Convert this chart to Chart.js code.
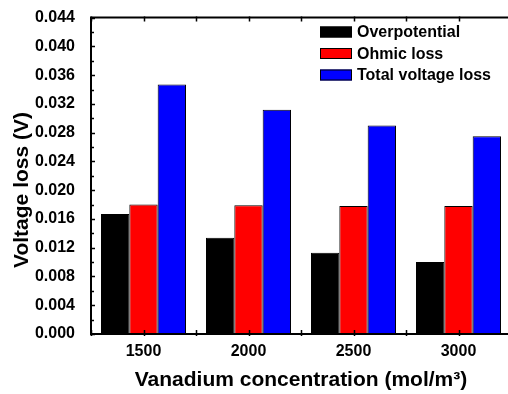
<!DOCTYPE html>
<html>
<head>
<meta charset="utf-8">
<script src="https://cdn.jsdelivr.net/npm/chart.js@4"></script>
<style>
  html, body { margin: 0; padding: 0; background: #fff; overflow: hidden; }
  #wrap { width: 511px; height: 394px; }
</style>
</head>
<body>
<div id="wrap"><canvas id="c" width="511" height="394"></canvas></div>
<script>
// Vanadium concentration categories (mol/m3)
const concentrations = ['1500', '2000', '2500', '3000'];

// Voltage loss components (V)
const overpotential = [0.0167, 0.0134, 0.0113, 0.0100];
const ohmicLoss     = [0.0180, 0.0179, 0.0178, 0.0178];
const totalLoss     = [0.0347, 0.0312, 0.0290, 0.0275];

const seriesNames = ['Overpotential', 'Ohmic loss', 'Total voltage loss'];
const yMin = 0, yMax = 0.044, yStep = 0.004;

const FONT = '"Liberation Sans", Arial, sans-serif';

// Frame lines, inward tick marks, y title and in-plot legend
const framePlugin = {
  id: 'frame',
  afterDatasetsDraw(chart) {
    const ctx = chart.ctx;
    const a = chart.chartArea;
    const xs = chart.scales.x, ys = chart.scales.y;
    ctx.save();
    ctx.strokeStyle = '#000';
    ctx.lineWidth = 2;
    // left, bottom, top, right axis lines
    ctx.beginPath();
    ctx.moveTo(a.left, a.top); ctx.lineTo(a.left, a.bottom);
    ctx.moveTo(a.left - 1, a.bottom); ctx.lineTo(a.right, a.bottom);
    ctx.moveTo(a.left - 1, a.top); ctx.lineTo(a.right, a.top);
    ctx.moveTo(a.right, a.top); ctx.lineTo(a.right, a.bottom);
    ctx.stroke();

    // y ticks: major every step, minor halfway
    ctx.lineWidth = 1.5;
    ctx.beginPath();
    const nHalf = Math.round((yMax - yMin) / (yStep / 2));
    for (let i = 0; i <= nHalf; i++) {
      const v = yMin + i * yStep / 2;
      const py = Math.round(ys.getPixelForValue(v)) + 0.5;
      const len = (i % 2 === 0) ? 4 : 3;
      ctx.moveTo(a.left - 1, py); ctx.lineTo(a.left + len, py);
    }
    // x ticks at category centres and between categories
    for (let i = -0.5; i <= concentrations.length - 0.5; i += 0.5) {
      const px = Math.round(xs.getPixelForValue(i)) + 0.5;
      ctx.moveTo(px, a.bottom + 2); ctx.lineTo(px, a.bottom - 4);
      ctx.moveTo(px, a.top - 1); ctx.lineTo(px, a.top + 4);
    }
    ctx.stroke();

    // y axis title
    ctx.fillStyle = '#000';
    ctx.font = 'bold 21px ' + FONT;
    ctx.textAlign = 'center';
    ctx.textBaseline = 'middle';
    ctx.translate(22, 190);
    ctx.rotate(-Math.PI / 2);
    ctx.fillText('Voltage loss (V)', 0, 0);
    ctx.restore();

    // legend
    ctx.save();
    ctx.font = 'bold 16px ' + FONT;
    ctx.textAlign = 'left';
    ctx.textBaseline = 'middle';
    const rows = [32, 53.5, 75];
    chart.data.datasets.forEach((ds, i) => {
      const cy = rows[i];
      ctx.fillStyle = ds.backgroundColor;
      ctx.fillRect(320, cy - 5.5, 32, 11);
      ctx.strokeStyle = '#000';
      ctx.lineWidth = 1;
      ctx.strokeRect(320.5, cy - 5, 31, 10);
      ctx.fillStyle = '#000';
      ctx.fillText(ds.label, 357, cy + 1);
    });
    ctx.restore();
  }
};

new Chart(document.getElementById('c'), {
  type: 'bar',
  data: {
    labels: concentrations,
    datasets: [
      { label: seriesNames[0], data: overpotential, backgroundColor: '#000000', borderColor: '#000000', borderWidth: 1 },
      { label: seriesNames[1], data: ohmicLoss,     backgroundColor: '#ff0000', borderColor: '#000000', borderWidth: 1 },
      { label: seriesNames[2], data: totalLoss,     backgroundColor: '#0000ff', borderColor: '#000000', borderWidth: 1 }
    ]
  },
  options: {
    responsive: false,
    animation: false,
    devicePixelRatio: 1,
    layout: { padding: { top: 17, right: 0, bottom: 0, left: 0 } },
    datasets: { bar: { categoryPercentage: 0.81, barPercentage: 1.0 } },
    plugins: { legend: { display: false }, tooltip: { enabled: false } },
    scales: {
      x: {
        grid: { display: false },
        border: { display: false },
        ticks: { color: '#000', font: { family: FONT, size: 16, weight: 'bold' }, padding: 0, maxRotation: 0 },
        title: {
          display: true,
          text: 'Vanadium concentration (mol/m³)',
          color: '#000',
          font: { family: FONT, size: 21, weight: 'bold' },
          padding: { top: 0, bottom: 1 }
        },
        afterFit(s) { s.height = 60; }
      },
      y: {
        min: yMin,
        max: yMax,
        grid: { display: false },
        border: { display: false },
        ticks: {
          stepSize: yStep,
          color: '#000',
          font: { family: FONT, size: 16, weight: 'bold' },
          padding: 8,
          callback: v => Number(v).toFixed(3)
        },
        afterFit(s) { s.width = 91; }
      }
    }
  },
  plugins: [framePlugin]
});
</script>
</body>
</html>
